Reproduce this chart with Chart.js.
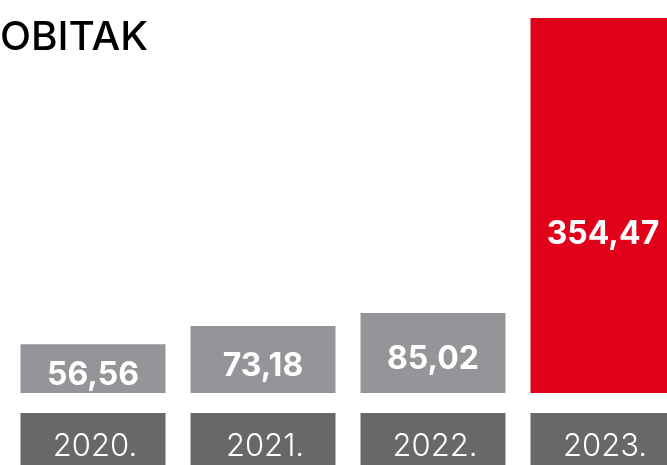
<!DOCTYPE html>
<html>
<head>
<meta charset="utf-8">
<script src="https://cdn.jsdelivr.net/npm/chart.js@4.4.1/dist/chart.umd.min.js"></script>
<style>
  html, body { margin: 0; padding: 0; background: #fff; overflow: hidden; }
  #wrap { width: 700px; height: 465px; position: relative; }
</style>
</head>
<body>
<div id="wrap"><canvas id="barChart" width="700" height="465"></canvas></div>
<script>
const title = "DOBITAK";
const years = ["2020.", "2021.", "2022.", "2023."];
const profit = [56.56, 73.18, 85.02, 354.47];
const barColors = ["#939598", "#939598", "#939598", "#e1001a"];

const fmt = v => v.toFixed(2).replace(".", ",");

// title, value labels and the dark year boxes under each bar
const decor = {
  id: "decor",
  afterDatasetsDraw(chart, args, opts) {
    const ctx = chart.ctx;
    const meta = chart.getDatasetMeta(0);
    ctx.save();
    ctx.fillStyle = "#000";
    ctx.font = "500 40px Inter, sans-serif";
    ctx.textAlign = "right";
    ctx.textBaseline = "alphabetic";
    // the first letter sits off the left edge, as in the original crop
    const visible = ctx.measureText(title.slice(1)).width;
    const sx = 148 / visible;
    ctx.save();
    ctx.scale(sx, 1);
    ctx.fillText(title, 148 / sx, 50);
    ctx.restore();

    meta.data.forEach((bar, i) => {
      const left = bar.x - bar.width / 2;
      // value label
      ctx.fillStyle = "#fff";
      ctx.font = "700 32px Inter, sans-serif";
      ctx.textAlign = "center";
      ctx.textBaseline = "middle";
      const mid = (bar.y + bar.base) / 2 + (opts.shift[i] || 0);
      ctx.fillText(fmt(profit[i]), bar.x, mid);
      // year box
      ctx.fillStyle = "#686868";
      ctx.fillRect(left, 413, bar.width, chart.height - 413);
      ctx.fillStyle = "#fff";
      ctx.font = "300 31px Inter, sans-serif";
      ctx.fillText(years[i], bar.x + 2, 447);
    });
    ctx.restore();
  }
};

new Chart(document.getElementById("barChart").getContext("2d"), {
  type: "bar",
  data: {
    labels: years,
    datasets: [{
      data: profit,
      backgroundColor: barColors,
      borderWidth: 0,
      barPercentage: 1,
      categoryPercentage: 0.853
    }]
  },
  options: {
    responsive: false,
    animation: false,
    layout: { padding: { left: 8, right: 12, top: 18, bottom: 72 } },
    plugins: {
      legend: { display: false },
      tooltip: { enabled: false },
      decor: { shift: [0, 0, 0, 22] }
    },
    scales: {
      x: { display: false },
      y: { display: false, min: 12, max: 354.47 }
    }
  },
  plugins: [decor]
});
</script>
</body>
</html>
